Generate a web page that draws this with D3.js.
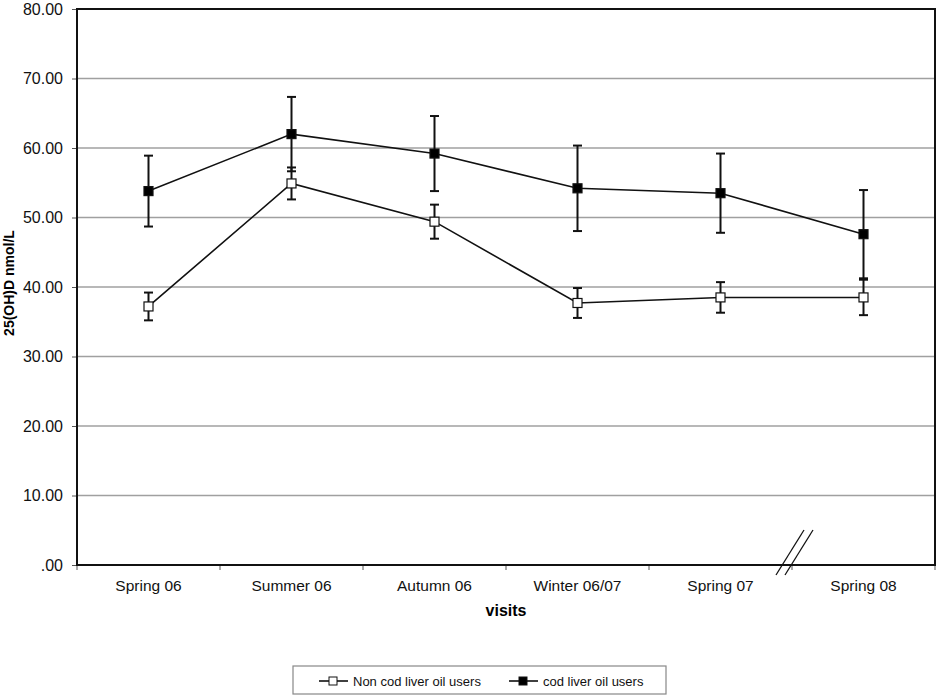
<!DOCTYPE html>
<html>
<head>
<meta charset="utf-8">
<script src="https://cdn.jsdelivr.net/npm/d3@7"></script>
<style>
  body { margin: 0; background: #fff; }
  svg { font-family: "Liberation Sans", Arial, sans-serif; }
</style>
</head>
<body>
<div id="chart"></div>
<script>
// visits on the x axis
const visits = ["Spring 06", "Summer 06", "Autumn 06", "Winter 06/07", "Spring 07", "Spring 08"];
// mean 25(OH)D, nmol/L
const nonUsers = [37.2, 54.9, 49.4, 37.7, 38.5, 38.5];
const nonUsersErr = [2.0, 2.3, 2.45, 2.15, 2.2, 2.55];
const users = [53.8, 62.0, 59.2, 54.2, 53.5, 47.6];
const usersErr = [5.1, 5.35, 5.4, 6.15, 5.7, 6.35];
const yTicks = [0, 10, 20, 30, 40, 50, 60, 70, 80];
const seriesNames = ["Non cod liver oil users", "cod liver oil users"];

var margin = {top: 9, right: 5, bottom: 133, left: 77},
    width = 940 - margin.left - margin.right,
    height = 698 - margin.top - margin.bottom;

var svg = d3.select("#chart").append("svg")
    .attr("width", 940)
    .attr("height", 698)
  .append("g")
    .attr("transform", "translate(" + margin.left + "," + margin.top + ")");

var x = d3.scaleBand().domain(visits).range([0, width]);
var y = d3.scaleLinear().domain([0, 80]).range([height, 0]);

// gridlines
svg.append("g")
  .selectAll("line")
  .data(yTicks.filter(d => d > 0 && d < 80))
  .enter().append("line")
    .attr("x1", 0).attr("x2", width)
    .attr("y1", d => y(d)).attr("y2", d => y(d))
    .attr("stroke", "#a0a0a0")
    .attr("stroke-width", 1.5);

// y axis
var yAxis = svg.append("g")
    .call(d3.axisLeft(y).tickValues(yTicks).tickSize(5).tickPadding(9)
      .tickFormat(d => d === 0 ? ".00" : d3.format(".2f")(d)));
yAxis.select(".domain").remove();
yAxis.selectAll("line").attr("stroke", "#555");
yAxis.selectAll("text").attr("font-size", 16).attr("fill", "#111")
    .attr("font-family", "Liberation Sans, Arial, sans-serif");

// x axis: ticks on the band boundaries
var bounds = visits.map(v => x(v)).concat([width]);
svg.append("g")
  .selectAll("line")
  .data(bounds)
  .enter().append("line")
    .attr("x1", d => d).attr("x2", d => d)
    .attr("y1", height).attr("y2", height + 5)
    .attr("stroke", "#555");
svg.append("g")
  .selectAll("text")
  .data(visits)
  .enter().append("text")
    .attr("x", d => x(d) + x.bandwidth() / 2)
    .attr("y", height + 26)
    .attr("text-anchor", "middle")
    .attr("font-size", 15.5)
    .attr("fill", "#111")
    .text(d => d);

// frame
svg.append("rect")
    .attr("width", width).attr("height", height)
    .attr("fill", "none")
    .attr("stroke", "#111")
    .attr("stroke-width", 2);

// axis break between Spring 07 and Spring 08
var bx = x(visits[5]);
[-2, 7].forEach(function(off) {
  svg.append("line")
    .attr("x1", bx + off - 14).attr("y1", height + 10)
    .attr("x2", bx + off + 14).attr("y2", height - 35)
    .attr("stroke", "#111")
    .attr("stroke-width", 1.3);
});

// axis titles
svg.append("text")
    .attr("x", x(visits[3]))
    .attr("y", height + 51)
    .attr("text-anchor", "middle")
    .attr("font-size", 16)
    .attr("font-weight", "bold")
    .text("visits");
svg.append("text")
    .attr("transform", "translate(" + (-63) + "," + (height / 2 - 4) + ") rotate(-90)")
    .attr("text-anchor", "middle")
    .attr("font-size", 14)
    .attr("font-weight", "bold")
    .text("25(OH)D nmol/L");

var cx = d => x(d) + x.bandwidth() / 2;
var line = d3.line().x(d => cx(d.v)).y(d => y(d.m));

function drawSeries(means, errs, fill) {
  var data = visits.map((v, i) => ({v: v, m: means[i], e: errs[i]}));
  var g = svg.append("g");
  g.append("path")
    .datum(data)
    .attr("fill", "none")
    .attr("stroke", "#111")
    .attr("stroke-width", 1.6)
    .attr("d", line);
  var eb = g.selectAll(".err").data(data).enter().append("g");
  eb.append("line")
    .attr("x1", d => cx(d.v)).attr("x2", d => cx(d.v))
    .attr("y1", d => y(d.m - d.e)).attr("y2", d => y(d.m + d.e))
    .attr("stroke", "#111").attr("stroke-width", 2);
  [-1, 1].forEach(function(s) {
    eb.append("line")
      .attr("x1", d => cx(d.v) - 4.5).attr("x2", d => cx(d.v) + 4.5)
      .attr("y1", d => y(d.m + s * d.e)).attr("y2", d => y(d.m + s * d.e))
      .attr("stroke", "#111").attr("stroke-width", 2);
  });
  g.selectAll(".pt").data(data).enter().append("rect")
    .attr("x", d => cx(d.v) - 4.5)
    .attr("y", d => y(d.m) - 4.5)
    .attr("width", 9).attr("height", 9)
    .attr("fill", fill)
    .attr("stroke", "#111")
    .attr("stroke-width", 1.2);
}
drawSeries(users, usersErr, "#000");
drawSeries(nonUsers, nonUsersErr, "#fff");

// legend
var leg = svg.append("g").attr("transform", "translate(" + (293 - margin.left) + "," + (666 - margin.top) + ")");
leg.append("rect")
    .attr("width", 373).attr("height", 28)
    .attr("fill", "#fff")
    .attr("stroke", "#888")
    .attr("stroke-width", 1.2);
[{name: seriesNames[0], fill: "#fff", x: 26}, {name: seriesNames[1], fill: "#000", x: 216}].forEach(function(it) {
  leg.append("line")
    .attr("x1", it.x).attr("x2", it.x + 29)
    .attr("y1", 15).attr("y2", 15)
    .attr("stroke", "#111").attr("stroke-width", 1.6);
  leg.append("rect")
    .attr("x", it.x + 10).attr("y", 11)
    .attr("width", 8).attr("height", 8)
    .attr("fill", it.fill).attr("stroke", "#111");
  leg.append("text")
    .attr("x", it.x + 34).attr("y", 20)
    .attr("font-size", 13)
    .attr("fill", "#111")
    .text(it.name);
});
</script>
</body>
</html>
